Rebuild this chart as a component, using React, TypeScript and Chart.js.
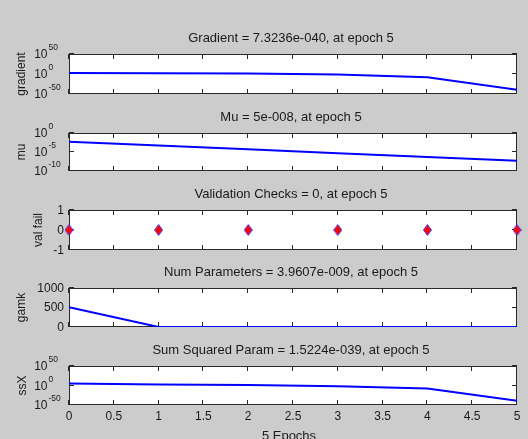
import React, { useEffect, useRef } from 'react';
import { Chart, registerables } from 'chart.js';

Chart.register(...registerables);

// ---------- data ----------
const epochs = [0, 1, 2, 3, 4, 5];
const gradientValues = [300, 150, 10, 0.03, 1e-8, 7.3236e-40];
const muValues = [5e-3, 5e-4, 5e-5, 5e-6, 5e-7, 5e-8];
const valFailValues = [0, 0, 0, 0, 0, 0];
const gamkValues = [505, 3e-3, 2e-5, 1e-7, 5e-9, 3.9607e-9];
const ssXValues = [1.5e5, 400, 10, 0.02, 2e-8, 1.5224e-39];

const xTicks = [0, 0.5, 1, 1.5, 2, 2.5, 3, 3.5, 4, 4.5, 5];
const xTickLabels = ['0', '0.5', '1', '1.5', '2', '2.5', '3', '3.5', '4', '4.5', '5'];
const xAxisLabel = '5 Epochs';

const titles = [
  'Gradient = 7.3236e-040, at epoch 5',
  'Mu = 5e-008, at epoch 5',
  'Validation Checks = 0, at epoch 5',
  'Num Parameters = 3.9607e-009, at epoch 5',
  'Sum Squared Param = 1.5224e-039, at epoch 5',
];
const yLabels = ['gradient', 'mu', 'val fail', 'gamk', 'ssX'];

const gradientTicks = [1e50, 1, 1e-50];
const gradientTickExps = ['50', '0', '-50'];
const muTicks = [1, 1e-5, 1e-10];
const muTickExps = ['0', '-5', '-10'];
const valTicks = [1, 0, -1];
const valTickLabels = ['1', '0', '-1'];
const gamkTicks = [1000, 500, 0];
const gamkTickLabels = ['1000', '500', '0'];
const ssXTicks = [1e50, 1, 1e-50];
const ssXTickExps = ['50', '0', '-50'];

// ---------- layout ----------
const W = 528;
const FONT = '"Liberation Sans", Arial, Helvetica, sans-serif';
const TEXT = '#1a1a1a';
const PLOT_LEFT = 69;
const PLOT_RIGHT = 517;

type Panel = {
  title: string;
  yLabel: string;
  values: number[];
  yType: 'linear' | 'logarithmic';
  yMin: number;
  yMax: number;
  yTicks: number[];
  yTickLabels: string[];
  logLabels: boolean;
  bandTop: number;
  bandBottom: number;
  plotTop: number;
  plotBottom: number;
  yLabelX: number;
  showX: boolean;
  markers: boolean;
};

const panels: Panel[] = [
  {
    title: titles[0], yLabel: yLabels[0], values: gradientValues, yType: 'logarithmic',
    yMin: 1e-50, yMax: 1e50, yTicks: gradientTicks, yTickLabels: gradientTickExps, logLabels: true,
    bandTop: 0, bandBottom: 100, plotTop: 54, plotBottom: 94, yLabelX: 22, showX: false, markers: false,
  },
  {
    title: titles[1], yLabel: yLabels[1], values: muValues, yType: 'logarithmic',
    yMin: 1e-10, yMax: 1, yTicks: muTicks, yTickLabels: muTickExps, logLabels: true,
    bandTop: 100, bandBottom: 180, plotTop: 133, plotBottom: 171, yLabelX: 22, showX: false, markers: false,
  },
  {
    title: titles[2], yLabel: yLabels[2], values: valFailValues, yType: 'linear',
    yMin: -1, yMax: 1, yTicks: valTicks, yTickLabels: valTickLabels, logLabels: false,
    bandTop: 180, bandBottom: 258, plotTop: 210, plotBottom: 250, yLabelX: 39, showX: false, markers: true,
  },
  {
    title: titles[3], yLabel: yLabels[3], values: gamkValues, yType: 'linear',
    yMin: 0, yMax: 1000, yTicks: gamkTicks, yTickLabels: gamkTickLabels, logLabels: false,
    bandTop: 258, bandBottom: 336, plotTop: 288, plotBottom: 327, yLabelX: 22, showX: false, markers: false,
  },
  {
    title: titles[4], yLabel: yLabels[4], values: ssXValues, yType: 'logarithmic',
    yMin: 1e-50, yMax: 1e50, yTicks: ssXTicks, yTickLabels: ssXTickExps, logLabels: true,
    bandTop: 336, bandBottom: 439, plotTop: 366, plotBottom: 405, yLabelX: 23, showX: true, markers: false,
  },
];

function makeDiamond(): HTMLCanvasElement {
  const c = document.createElement('canvas');
  const w = 9;
  const h = 12;
  c.width = w;
  c.height = h;
  const g = c.getContext('2d');
  if (g) {
    g.beginPath();
    g.moveTo(w / 2, 0.5);
    g.lineTo(w - 0.5, h / 2);
    g.lineTo(w / 2, h - 0.5);
    g.lineTo(0.5, h / 2);
    g.closePath();
    g.fillStyle = '#ff0000';
    g.fill();
    g.strokeStyle = '#4040ff';
    g.lineWidth = 1;
    g.stroke();
  }
  return c;
}

const matlabAxes = {
  id: 'matlabAxes',
  beforeDatasetsDraw(chart: any, _args: any, opts: any) {
    const p: Panel = opts.panel;
    const { ctx, chartArea: a, scales } = chart;
    ctx.save();
    ctx.fillStyle = '#ffffff';
    ctx.fillRect(a.left, a.top, a.right - a.left, a.bottom - a.top);
    ctx.strokeStyle = '#2a2a2a';
    ctx.lineWidth = 1;
    ctx.beginPath();
    for (const t of xTicks) {
      const x = Math.round(scales.x.getPixelForValue(t)) - 0.5;
      ctx.moveTo(x, a.top);
      ctx.lineTo(x, a.top + 5);
      ctx.moveTo(x, a.bottom);
      ctx.lineTo(x, a.bottom - 5);
    }
    for (const t of p.yTicks) {
      const y = Math.round(scales.y.getPixelForValue(t)) - 0.5;
      ctx.moveTo(a.left, y);
      ctx.lineTo(a.left + 5, y);
      ctx.moveTo(a.right, y);
      ctx.lineTo(a.right - 5, y);
    }
    ctx.stroke();
    ctx.strokeRect(a.left + 0.5, a.top + 0.5, a.right - a.left - 1, a.bottom - a.top - 1);
    ctx.restore();
  },
  afterDraw(chart: any, _args: any, opts: any) {
    const p: Panel = opts.panel;
    const { ctx, chartArea: a, scales } = chart;
    ctx.save();
    ctx.fillStyle = TEXT;
    // title
    ctx.font = `13px ${FONT}`;
    ctx.textAlign = 'center';
    ctx.textBaseline = 'middle';
    ctx.fillText(p.title, (a.left + a.right) / 2 - 2, a.top - 16);
    // y label
    ctx.save();
    ctx.translate(p.yLabelX, (a.top + a.bottom) / 2);
    ctx.rotate(-Math.PI / 2);
    ctx.font = `12px ${FONT}`;
    ctx.fillText(p.yLabel, 0, 0);
    ctx.restore();
    // y tick labels
    p.yTicks.forEach((t, i) => {
      const y = scales.y.getPixelForValue(t);
      if (p.logLabels) {
        ctx.font = `12px ${FONT}`;
        ctx.textAlign = 'right';
        ctx.textBaseline = 'middle';
        ctx.fillText('10', 47.5, y + 1);
        ctx.font = `8.5px ${FONT}`;
        ctx.textAlign = 'left';
        ctx.fillText(p.yTickLabels[i], 48.5, y - 6);
      } else {
        ctx.font = `12px ${FONT}`;
        ctx.textAlign = 'right';
        ctx.textBaseline = 'middle';
        ctx.fillText(p.yTickLabels[i], 64, y + 0.5);
      }
    });
    if (p.showX) {
      ctx.font = `12px ${FONT}`;
      ctx.textAlign = 'center';
      ctx.textBaseline = 'middle';
      xTicks.forEach((t, i) => {
        ctx.fillText(xTickLabels[i], scales.x.getPixelForValue(t), a.bottom + 12);
      });
      ctx.font = `13px ${FONT}`;
      ctx.fillText(xAxisLabel, (a.left + a.right) / 2 - 4, a.bottom + 31);
    }
    ctx.restore();
  },
};

function PanelChart({ p }: { p: Panel }) {
  const ref = useRef<HTMLCanvasElement | null>(null);
  useEffect(() => {
    if (!ref.current) return;
    const data = epochs.map((e, i) => ({ x: e, y: p.values[i] }));
    const chart = new Chart(ref.current, {
      type: 'line',
      data: {
        datasets: [
          p.markers
            ? {
                data,
                showLine: false,
                pointStyle: makeDiamond(),
                pointRadius: 6,
                clip: false,
              }
            : {
                data,
                borderColor: '#0000ff',
                borderWidth: 2,
                pointRadius: 0,
                tension: 0,
              },
        ] as any,
      },
      options: {
        responsive: false,
        animation: false,
        events: [],
        layout: {
          padding: {
            left: PLOT_LEFT,
            right: W - PLOT_RIGHT,
            top: p.plotTop - p.bandTop,
            bottom: p.bandBottom - p.plotBottom,
          },
        },
        plugins: {
          legend: { display: false },
          tooltip: { enabled: false },
          title: { display: false },
          matlabAxes: { panel: p },
        } as any,
        scales: {
          x: { type: 'linear', min: 0, max: 5, display: false },
          y: { type: p.yType, min: p.yMin, max: p.yMax, display: false } as any,
        },
      },
      plugins: [matlabAxes],
    });
    return () => chart.destroy();
  }, [p]);
  return (
    <canvas
      ref={ref}
      width={W}
      height={p.bandBottom - p.bandTop}
      style={{ display: 'block', width: W, height: p.bandBottom - p.bandTop }}
    />
  );
}

export default function App() {
  return (
    <div
      style={{
        position: 'absolute',
        left: 0,
        top: 0,
        width: W,
        height: 439,
        background: '#cccccc',
        overflow: 'hidden',
      }}
    >
      {panels.map((p, i) => (
        <PanelChart key={i} p={p} />
      ))}
    </div>
  );
}
